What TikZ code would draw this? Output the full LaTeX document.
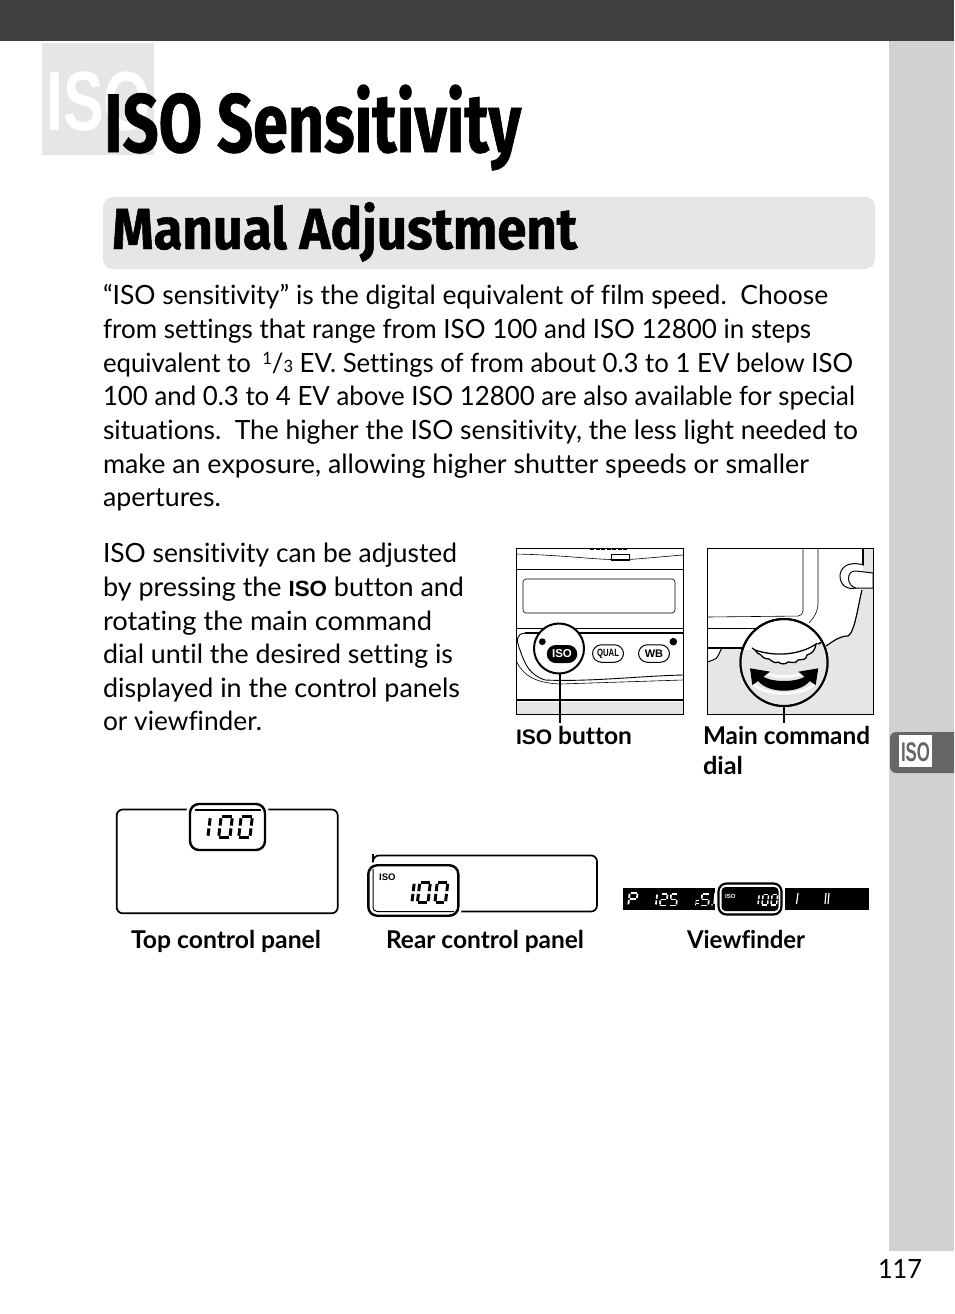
\documentclass[tikz,border=0pt]{standalone}
\usepackage{fontspec}
\usepackage{graphicx}
\setmainfont[Ligatures=NoCommon]{Lato}
\newfontfamily\arialf{Liberation Sans}
\newfontfamily\headf[FakeStretch=0.8,BoldFeatures={FakeBold=0.8}]{Fira Sans}
\definecolor{pagebar}{HTML}{3F3F3F}
\definecolor{sidegray}{HTML}{D1D1D1}
\definecolor{tabgray}{HTML}{666666}
\definecolor{softgray}{HTML}{E6E6E6}
\newcommand\bodyfont{\fontsize{26.5}{34}\selectfont}
\newcommand\fitbox[2]{\resizebox{#1pt}{\height}{#2}}
\newcommand\txtline[5]{\node[txt] (#1) at (#2,#3) {\fitbox{#4}{#5}};}
\newcommand\isomark[1]{{\arialf\bfseries\fontsize{#1}{#1}\selectfont ISO}}
% seven-segment digit: x, y (top-left), w, h, colour, segment list
\newcommand\segdigit[6]{%
  \begin{scope}[shift={(#1,#2)},x={(#3pt,0pt)},y={(-0.12*#4pt,-#4pt)},seg/.style={line width=0.13*#4pt,#5}]
    \foreach \s in {#6}{%
      \if\s a\draw[seg] (0.14,0.05)--(0.9,0.05);\fi
      \if\s b\draw[seg] (0.96,0.12)--(0.96,0.44);\fi
      \if\s c\draw[seg] (0.96,0.56)--(0.96,0.88);\fi
      \if\s d\draw[seg] (0.1,0.95)--(0.86,0.95);\fi
      \if\s e\draw[seg] (0.04,0.56)--(0.04,0.88);\fi
      \if\s f\draw[seg] (0.04,0.12)--(0.04,0.44);\fi
      \if\s g\draw[seg] (0.12,0.5)--(0.88,0.5);\fi
    }
  \end{scope}}
\newcommand\segoneh[5]{\segdigit{#1}{#2}{#3}{#4}{#5}{b,c}}
\newcommand\segzero[5]{\segdigit{#1}{#2}{#3}{#4}{#5}{a,b,c,d,e,f}}
\begin{document}
\begin{tikzpicture}[x=1pt,y=-1pt,
  txt/.style={anchor=base west,inner sep=0pt,outer sep=0pt,font=\bodyfont},
  lbl/.style={anchor=base west,inner sep=0pt,outer sep=0pt,font=\fontsize{24.5}{30}\selectfont\bfseries},
  thinl/.style={line width=0.6pt,black},
  frameb/.style={draw=black,line width=0.7pt},
  lcdpanel/.style={draw=black,line width=1.7pt,rounded corners=6pt,fill=white},
  halo/.style={draw=black,line width=2.4pt,rounded corners=9pt,fill=white},
  pill/.style={draw=black,line width=1pt,rounded corners=9pt,fill=white},
  callout/.style={circle,draw=black,line width=2pt,fill=white,inner sep=0pt,outer sep=0pt},
  leader/.style={line width=2pt,black}]
\useasboundingbox (0,0) rectangle (954,1314);
\fill[white] (0,0) rectangle (954,1314);
% page furniture
\fill[pagebar] (0,0) rectangle (954,41);
\fill[sidegray] (889,41) rectangle (954,1251);
\begin{scope}
\clip (880,720) rectangle (954,790);
\fill[tabgray,rounded corners=6pt] (890,732) -- (890,773) -- (975,773) -- (975,732) -- cycle;
\end{scope}
\fill[white] (899,735) rectangle (932,767);
\node[anchor=base,inner sep=0pt,text=tabgray] (tabiso) at (915.5,761) {\resizebox{29pt}{\height}{\arialf\bfseries\fontsize{27}{27}\selectfont ISO}};
\node[txt] (pagenum) at (878,1278) {\fitbox{44}{117}};
% heading
\fill[softgray] (42,43) rectangle (154,155);
\node[anchor=base west,inner sep=0pt,text=white] (wm) at (46,130) {\resizebox{105pt}{\height}{\arialf\bfseries\fontsize{84}{84}\selectfont ISO}};
\node[anchor=base west,inner sep=0pt] (title) at (104,152) {\resizebox{417pt}{\height}{\headf\bfseries\fontsize{83}{90}\selectfont ISO Sensitivity}};
\fill[softgray,rounded corners=10pt] (103,197) rectangle (875,269);
\node[anchor=base west,inner sep=0pt] (section) at (112,249) {\resizebox{465pt}{\height}{\headf\bfseries\fontsize{58}{64}\selectfont Manual Adjustment}};
% body
\txtline{p1}{103}{304}{725}{“ISO sensitivity” is the digital equivalent of film speed.\ \ Choose}
\txtline{p2}{103}{338}{708}{from settings that range from ISO 100 and ISO 12800 in steps}
\txtline{p3}{103}{372}{750}{equivalent to\hspace{5pt} \raisebox{8pt}{\fontsize{17}{17}\selectfont 1}/\fontsize{17}{17}\selectfont 3\bodyfont\ EV. Settings of from about 0.3 to 1 EV below ISO}
\txtline{p4}{103}{405}{752}{100 and 0.3 to 4 EV above ISO 12800 are also available for special}
\txtline{p5}{103}{439}{755}{situations.\ \ The higher the ISO sensitivity, the less light needed to}
\txtline{p6}{103}{473}{706}{make an exposure, allowing higher shutter speeds or smaller}
\txtline{p7}{103}{506}{118}{apertures.}
\txtline{q1}{103}{562}{354}{ISO sensitivity can be adjusted}
\txtline{q2}{103}{596}{361}{by pressing the \isomark{22} button and}
\txtline{q3}{103}{630}{329}{rotating the main command}
\txtline{q4}{103}{663}{350}{dial until the desired setting is}
\txtline{q5}{103}{697}{357}{displayed in the control panels}
\txtline{q6}{103}{730}{159}{or viewfinder.}
% left illustration
\fill[softgray] (516,702) rectangle (683,714);
\draw[frameb] (516,548) rectangle (683,714);
\draw[line width=1.6pt,dash pattern=on 4pt off 1.5pt] (590,549) -- (628,549);
\draw[thinl] (516,554) .. controls (560,555) and (590,559) .. (611,559.5) -- (629,559.5) .. controls (650,558) and (670,556) .. (683,555);
\draw[thinl] (611,554.5) rectangle (629,560);
\draw[thinl] (516,569.5) -- (683,569.5);
\draw[thinl,rounded corners=3pt] (523,579) rectangle (675,613);
\draw[thinl] (516,628) -- (683,628);
\draw[line width=1.3pt] (525,633) -- (683,633);
\draw[line width=0.9pt] (525,633) .. controls (516,634) and (516,640) .. (520,650) .. controls (525,665) and (530,675) .. (545,680) .. controls (590,682) and (640,676) .. (683,675);
\draw[thinl] (516,660) .. controls (522,675) and (535,683) .. (560,684) -- (683,680);
\draw[line width=2pt] (516,700) -- (683,700);
\node[callout,minimum size=50pt] (isocircle) at (559,648.5) {};
\fill (542.3,641.7) circle (3.4);
\node[fill=black,rounded corners=9pt,minimum width=30.5pt,minimum height=18pt,inner sep=0pt,text=white] (isobtn) at (562,654) {\arialf\bfseries\fontsize{11.5}{12}\selectfont ISO};
\node[pill,minimum width=31pt,minimum height=17.5pt,inner sep=0pt] (qualbtn) at (608,653.5) {\resizebox{22pt}{\height}{\arialf\bfseries\fontsize{10.5}{12}\selectfont QUAL}};
\node[pill,minimum width=31pt,minimum height=17.5pt,inner sep=0pt] (wbbtn) at (654,653.5) {\arialf\bfseries\fontsize{11}{12}\selectfont WB};
\fill (673.3,641.7) circle (3.8);
\coordinate (isoend) at (560,723);
\draw[leader] (isocircle.south -| isoend) -- (isoend);
% right illustration
\fill[softgray] (863,548) -- (873.3,548) -- (873.3,714) -- (707.3,714) -- (707.3,662) -- (713,660) .. controls (718,660) and (720,650) .. (722,648) -- (740,648) -- (826,648) -- (826,646)
  .. controls (835,640) and (840,636) .. (848,636) .. controls (855,632) and (858,605) .. (862,590) -- (863,570) -- cycle;
\draw[line width=1pt] (707.3,662) -- (713,660) .. controls (718,660) and (720,650) .. (722,648) -- (745,648);
\draw[line width=1.2pt] (707.3,648) -- (745,648);
\draw[line width=1.2pt] (826,646) .. controls (835,640) and (840,636) .. (848,636) .. controls (855,632) and (858,605) .. (862,590);
\draw[line width=1.2pt] (863,548) -- (863,566);
\draw[thinl,rounded corners=5pt] (803,548) -- (803,616) -- (707.3,617);
\draw[thinl,rounded corners=8pt] (818,548) -- (818,612) -- (809,623);
\draw[thinl] (707.3,628) -- (760,628);
\draw[frameb] (707.3,548) rectangle (873.3,714);
\draw[line width=1pt,fill=white] (864,565) .. controls (845,560) and (840,570) .. (840,576) .. controls (840,585) and (847,590) .. (856,588) -- (873,588) -- (873,573) -- (856,571);
\draw[line width=1pt] (856,571) .. controls (846,570) and (846,586) .. (856,588);
\node[callout,minimum size=87pt] (dialcircle) at (784,662.5) {};
\fill[softgray] (743,650) -- (755,650) .. controls (775,657) and (800,655) .. (816,644) -- (822,642) .. controls (827,655) and (827.5,665) .. (827,668) .. controls (825,690) and (805,704) .. (784,705) .. controls (762,704) and (744,690) .. (741,668) .. controls (740,660) and (741,655) .. (743,650) -- cycle;
\draw[white,line width=2.5pt] (764,672) .. controls (772,678) and (796,678) .. (804,672);
\draw[white,line width=2.5pt] (753,684) .. controls (768,697) and (800,697) .. (815,684);
\draw[line width=1.3pt,fill=white] (752,648) -- (755,650) .. controls (775,657) and (800,655) .. (816,644) .. controls (815,650) and (813,653) .. (807,655)
  .. controls (806,661) and (802,659) .. (798,660) .. controls (796,664) and (792,662) .. (788,662) .. controls (785,665) and (781,664) .. (778,662) .. controls (775,664) and (772,661) .. (769,659) .. controls (765,659) and (762,657) .. (761,655) .. controls (758,655) and (757,652) .. (755,650) -- cycle;
\draw[line width=1pt] (816,644) .. controls (822,645) and (822,640) .. (818,644);
\fill (750,668.3) -- (770,671.7) -- (763.3,676.7) .. controls (772,682.4) and (796,682.4) .. (804.7,676.7) -- (798.3,671.7) -- (818.3,668.3) -- (815.7,685) -- (809.7,681) .. controls (800,693.9) and (768,693.9) .. (758.3,681) -- (752.3,685) -- cycle;
\draw[line width=2pt] (dialcircle) circle (43.5);
\coordinate (dialend) at (784,723);
\draw[leader] (dialcircle.south) -- (dialend);
% captions
\node[lbl] (lab1) at (516,744) {\fitbox{116}{\isomark{21} button}};
\node[lbl] (lab2) at (703,744) {\fitbox{167}{Main command}};
\node[lbl] (lab3) at (703,774) {\fitbox{40}{dial}};
\node[lbl] (lab4) at (131,948) {\fitbox{190}{Top control panel}};
\node[lbl] (lab5) at (386,948) {\fitbox{198}{Rear control panel}};
\node[lbl] (lab6) at (687,948) {\fitbox{118}{Viewfinder}};
% top control panel
\draw[lcdpanel] (116.7,809.5) rectangle (337.7,913.3);
\node[draw=white,line width=3pt,rounded corners=9pt,minimum width=79pt,minimum height=50pt,inner sep=0pt] (tophalo0) at (227.5,827) {};
\node[halo,minimum width=75pt,minimum height=46pt,inner sep=0pt] (tophalo) at (227.5,827) {};
\draw[line width=1.5pt] (195,810) -- (261,810);
\segoneh{198}{815.5}{13}{23}{black}
\segzero{220.8}{815.5}{12.2}{23}{black}
\segzero{240.8}{815.5}{12.2}{23}{black}
% rear control panel
\draw[lcdpanel] (373,915) -- (373,860) -- (373,855.5) -- (597,855.5) -- (597,911.5) -- (450,911.5);
\node[draw=white,line width=3pt,rounded corners=9pt,minimum width=94pt,minimum height=54pt,inner sep=0pt] (rearhalo0) at (413.3,890.5) {};
\node[halo,minimum width=90pt,minimum height=50.5pt,inner sep=0pt] (rearhalo) at (413.3,890.5) {};
\draw[line width=1pt,rounded corners=4pt] (373,869) -- (373,911.5) -- (454,911.5);
\node[anchor=base west,inner sep=0pt] (reariso) at (379,880) {\arialf\bfseries\fontsize{9.5}{10}\selectfont ISO};
\segoneh{402}{881}{13}{23}{black}
\segzero{419.5}{881}{11.5}{23}{black}
\segzero{437}{881}{11.5}{23}{black}
% viewfinder
\fill[black] (623,888) rectangle (869,910);
\segdigit{629.5}{892}{8.5}{14}{white}{a,b,e,f,g}
\segoneh{652}{893}{5.5}{13}{white}
\segdigit{661}{893}{7}{13}{white}{a,b,g,e,d}
\segdigit{671}{893}{7}{13}{white}{a,f,g,c,d}
\segdigit{696}{900}{3.5}{6}{white}{a,f,g,e}
\segdigit{702}{893}{8}{13}{white}{a,f,g,c,d}
\fill[white] (712,905) circle (0.8);
\draw[white,line width=1.3pt] (715,893) -- (714,904);
\fill[white,rounded corners=8pt] (715,881) rectangle (785,917);
\fill[black] (785,888) rectangle (787,910);
\node[draw=black,fill=white,line width=2.2pt,rounded corners=8pt,minimum width=63pt,minimum height=31pt,inner sep=0pt] (vfhalo) at (750,899) {};
\node[fill=black,rounded corners=4pt,minimum width=57pt,minimum height=24pt,inner sep=0pt] (vfinner) at (750,899) {};
\node[anchor=base west,inner sep=0pt,text=white] (vfiso) at (725,898.2) {\arialf\bfseries\fontsize{6}{6}\selectfont ISO};
\segoneh{754}{894}{5.5}{11.5}{white}
\segzero{763}{894}{6}{11.5}{white}
\segzero{772}{894}{6}{11.5}{white}
\draw[white,line width=1.2pt] (798,893) -- (796.5,904);
\draw[white,line width=1.2pt] (826,893) -- (825,904);
\draw[white,line width=1.2pt] (829,893) -- (828,904);
\end{tikzpicture}
\end{document}
